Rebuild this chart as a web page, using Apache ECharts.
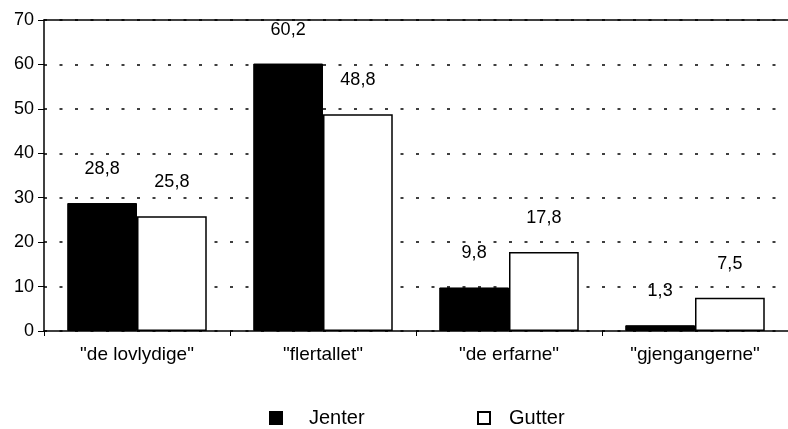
<!DOCTYPE html>
<html>
<head>
<meta charset="utf-8">
<script src="https://cdn.jsdelivr.net/npm/echarts@6/dist/echarts.min.js"></script>
<style>
    html, body { margin: 0; padding: 0; background: #fff; }
    #chart { width: 788px; height: 429px; }
</style>
</head>
<body>
<div id="chart"></div>
<script>
// Chart data
const categories = ['"de lovlydige"', '"flertallet"', '"de erfarne"', '"gjengangerne"'];
const jenter = [28.8, 60.2, 9.8, 1.3];
const gutter = [25.8, 48.8, 17.8, 7.5];
const seriesNames = ['Jenter', 'Gutter'];

document.addEventListener('DOMContentLoaded', function() {
    const chart = echarts.init(document.getElementById('chart'));
    const font = '"Liberation Sans", Arial, sans-serif';

    function commaLabel(p) {
        return p.value.toFixed(1).replace('.', ',');
    }

    const labelStyle = {
        show: true,
        position: 'top',
        distance: 25,
        formatter: commaLabel,
        color: '#000',
        fontFamily: font,
        fontSize: 18
    };

    chart.setOption({
        animation: false,
        backgroundColor: '#fff',
        grid: { left: 44, right: 0, top: 20, bottom: 98 },
        legend: [
            {
                data: [seriesNames[0]],
                left: 264, top: 403,
                icon: 'rect', itemWidth: 12, itemHeight: 12,
                textStyle: { fontFamily: font, fontSize: 20, color: '#000', padding: [0, 0, 0, 22] }
            },
            {
                data: [seriesNames[1]],
                left: 472, top: 403,
                icon: 'rect', itemWidth: 12, itemHeight: 12,
                textStyle: { fontFamily: font, fontSize: 20, color: '#000', padding: [0, 0, 0, 14] }
            }
        ],
        xAxis: [
            {
                type: 'category',
                data: categories,
                axisLine: { lineStyle: { color: '#000', width: 1.5 } },
                axisTick: { show: true, length: 5, lineStyle: { color: '#000' } },
                axisLabel: { color: '#000', fontFamily: font, fontSize: 19, margin: 14 }
            },
            {
                type: 'category',
                position: 'top',
                data: categories,
                axisLine: { show: true, lineStyle: { color: '#000', width: 1.5 } },
                axisTick: { show: false },
                axisLabel: { show: false }
            }
        ],
        yAxis: {
            type: 'value',
            min: 0,
            max: 70,
            interval: 10,
            axisLine: { show: true, lineStyle: { color: '#000', width: 1.5 } },
            axisTick: { show: true, length: 6, lineStyle: { color: '#000' } },
            axisLabel: { color: '#000', fontFamily: font, fontSize: 18, margin: 10 },
            splitLine: { lineStyle: { color: '#000', width: 1.5, type: [3, 12.5] } }
        },
        series: [
            {
                name: seriesNames[0],
                type: 'bar',
                data: jenter,
                barGap: '0%',
                barCategoryGap: '25%',
                itemStyle: { color: '#000', borderColor: '#000', borderWidth: 1 },
                label: labelStyle
            },
            {
                name: seriesNames[1],
                type: 'bar',
                data: gutter,
                itemStyle: { color: '#fff', borderColor: '#000', borderWidth: 1.5 },
                label: labelStyle
            }
        ]
    });
});
</script>
</body>
</html>
